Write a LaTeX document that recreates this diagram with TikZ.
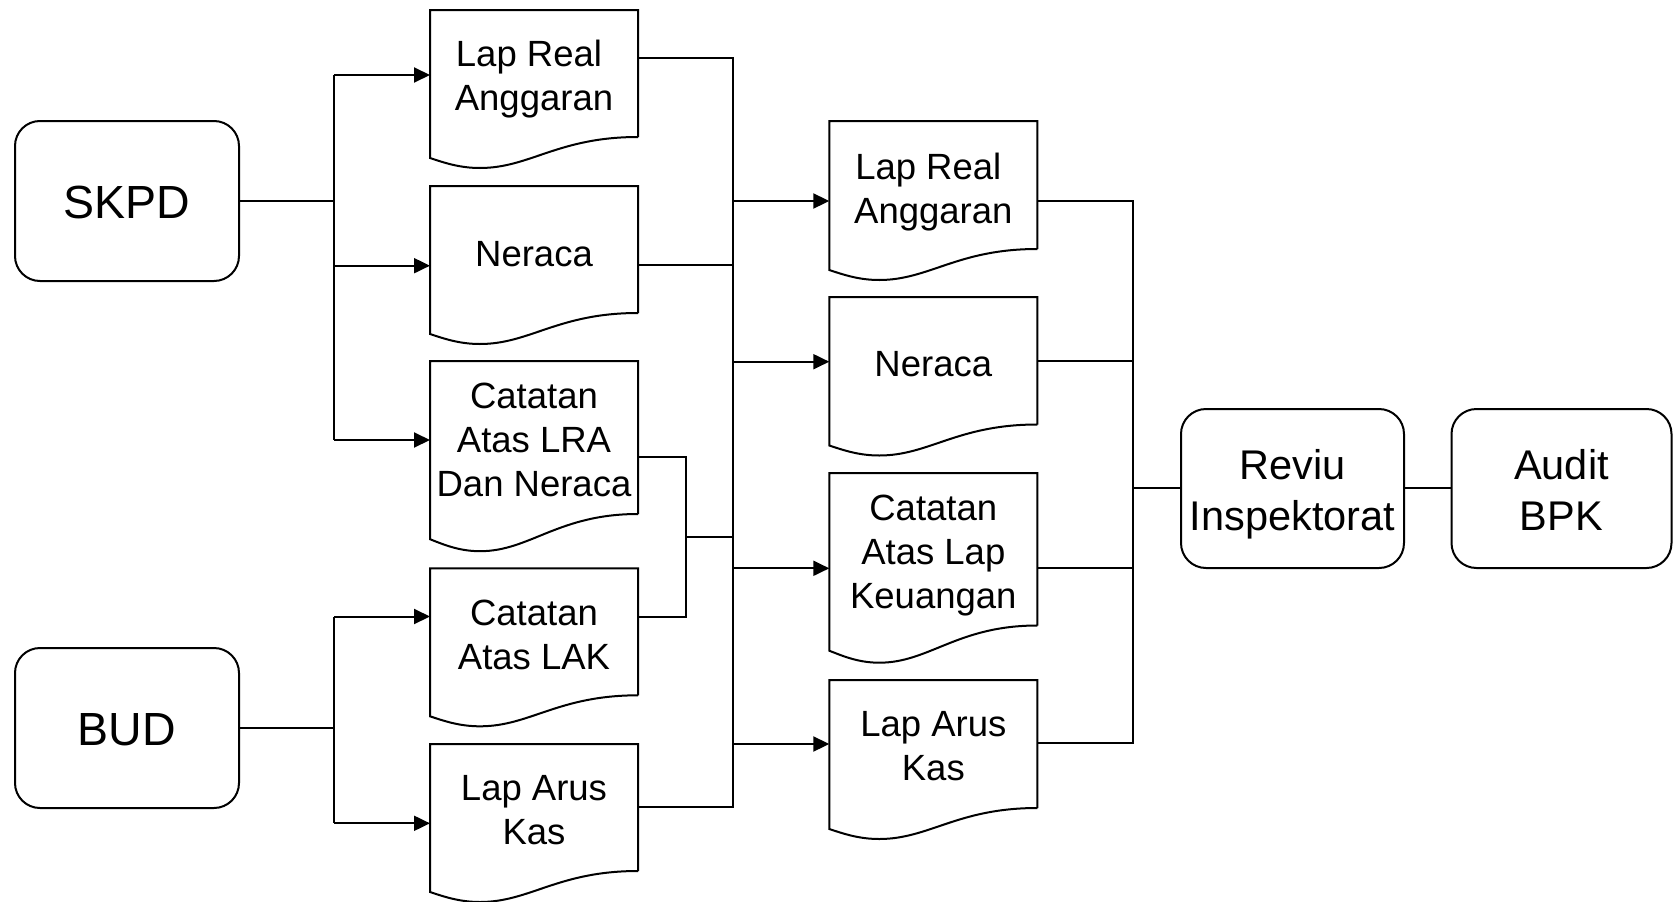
\documentclass[tikz,border=0pt]{standalone}
\usepackage{fontspec}
\setmainfont{Liberation Sans}
\usetikzlibrary{arrows.meta,calc}
\newcommand\txtlines[1]{\vtop{\halign{\hfil##\hfil\cr#1\crcr}}}
\newcommand\docoutline[2]{%
  \draw[shapeline] (#1.south east) -- (#1.north east) -- (#1.north west)
    -- ($(#1.south west)+(0,21*#2)$)
    .. controls +(15,5*#2) and +(-20,0) .. ($(#1.south west)+(50,31*#2)$)
    .. controls +(50,0) and +(-80,0) .. (#1.south east);}
\begin{document}
\begin{tikzpicture}[x=1pt,y=-1pt,
  shapeline/.style={line width=2pt,line join=miter},
  conn/.style={line width=2pt},
  arr/.style={line width=2pt,-{Triangle[length=16pt,width=15pt]}},
  docbox/.style={rectangle,draw=none,minimum width=208pt,inner sep=0pt,outer sep=0pt,anchor=north west},
  roundbox/.style={rectangle,draw,line width=2pt,rounded corners=25pt,inner sep=0pt,outer sep=0pt,anchor=north west},
  doctext/.style={anchor=base,inner sep=0pt,font=\fontsize{36.5}{44}\selectfont},
  bigtext/.style={anchor=base,inner sep=0pt,font=\fontsize{41.5}{50.7}\selectfont},
  hugetext/.style={anchor=base,inner sep=0pt,font=\fontsize{46.5}{52}\selectfont}]
\useasboundingbox (0,0) rectangle (1673,902);

% rounded boxes
\node[roundbox,minimum width=224pt,minimum height=160pt] (skpd) at (15,121) {};
\node[roundbox,minimum width=224pt,minimum height=160pt] (bud) at (15,648) {};
\node[roundbox,minimum width=223pt,minimum height=159pt] (reviu) at (1181,409) {};
\node[roundbox,minimum width=220pt,minimum height=159pt] (audit) at (1451.5,409) {};
\node[hugetext] (tskpd) at (127,218.3) {SKPD};
\node[hugetext] (tbud) at (127,745) {BUD};
\node[bigtext] (treviu) at (1292.5,479.3) {\txtlines{Reviu\cr Inspektorat}};
\node[bigtext] (taudit) at (1561.5,479.3) {\txtlines{Audit\cr BPK}};

% documents column 1
\node[docbox,minimum height=127pt] (d1) at (430,10) {};
\node[docbox,minimum height=127pt] (d2) at (430,186) {};
\node[docbox,minimum height=153pt] (d3) at (430,361) {};
\node[docbox,minimum height=127pt] (d4) at (430,568.3) {};
\node[docbox,minimum height=127pt] (d5) at (430,744) {};
\docoutline{d1}{1}
\docoutline{d2}{1}
\docoutline{d3}{1.2}
\docoutline{d4}{1}
\docoutline{d5}{1}
\node[doctext] (td1) at (534,66.7) {\txtlines{Lap Real\kern10pt\cr Anggaran}};
\node[doctext] (td2) at (534,266.7) {Neraca};
\node[doctext] (td3) at (534,408.3) {\txtlines{Catatan\cr Atas LRA\cr Dan Neraca}};
\node[doctext] (td4) at (534,625.5) {\txtlines{Catatan\cr Atas LAK}};
\node[doctext] (td5) at (534,800) {\txtlines{Lap Arus\cr Kas}};

% documents column 2
\node[docbox,minimum height=128pt] (e1) at (829.3,121) {};
\node[docbox,minimum height=127.5pt] (e2) at (829.3,297) {};
\node[docbox,minimum height=152.5pt] (e3) at (829.3,473) {};
\node[docbox,minimum height=128pt] (e4) at (829.3,680) {};
\docoutline{e1}{1}
\docoutline{e2}{1}
\docoutline{e3}{1.2}
\docoutline{e4}{1}
\node[doctext] (te1) at (933.3,179.3) {\txtlines{Lap Real\kern10pt\cr Anggaran}};
\node[doctext] (te2) at (933.3,376.7) {Neraca};
\node[doctext] (te3) at (933.3,520) {\txtlines{Catatan\cr Atas Lap\cr Keuangan}};
\node[doctext] (te4) at (933.3,736.7) {\txtlines{Lap Arus\cr Kas}};

% bus coordinates
\coordinate (s1) at (334.3,75);
\coordinate (s2) at (334.3,265.7);
\coordinate (s3) at (334.3,440);
\coordinate (sk) at (334.3,200.7);
\coordinate (u1) at (334.3,616.5);
\coordinate (u2) at (334.3,823.3);
\coordinate (uk) at (334.3,727.7);
\coordinate (j34) at (685.7,536.7);
\coordinate (m1) at (733.3,57.5);
\coordinate (m2) at (733.3,265);
\coordinate (m5) at (733.3,807.3);
\coordinate (mj) at (733.3,536.7);
\coordinate (n1) at (733.3,201);
\coordinate (n2) at (733.3,361.7);
\coordinate (n3) at (733.3,568.3);
\coordinate (n4) at (733.3,744);
\coordinate (r1) at (1132.7,200.7);
\coordinate (r2) at (1132.7,361);
\coordinate (r3) at (1132.7,567.7);
\coordinate (r4) at (1132.7,743.3);
\coordinate (rj) at (1132.7,488.3);
\coordinate (o3) at (685.7,456.7);

% SKPD
\draw[conn] (skpd.east |- sk) -- (sk);
\draw[conn] (s1) -- (s3);
\draw[arr] (s1) -- (s1 -| d1.west);
\draw[arr] (s2) -- (s2 -| d2.west);
\draw[arr] (s3) -- (s3 -| d3.west);
% BUD
\draw[conn] (bud.east |- uk) -- (uk);
\draw[conn] (u1) -- (u2);
\draw[arr] (u1) -- (u1 -| d4.west);
\draw[arr] (u2) -- (u2 -| d5.west);
% column 1 outputs
\draw[conn] (d1.east |- m1) -- (m1) -- (m5) -- (d5.east |- m5);
\draw[conn] (d2.east |- m2) -- (m2);
\draw[conn] (d3.east |- o3) -- (o3) -- (j34) |- (d4.east |- u1);
\draw[conn] (j34) -- (mj);
% to column 2
\draw[arr] (n1) -- (n1 -| e1.west);
\draw[arr] (n2) -- (n2 -| e2.west);
\draw[arr] (n3) -- (n3 -| e3.west);
\draw[arr] (n4) -- (n4 -| e4.west);
% column 2 outputs
\draw[conn] (e1.east |- r1) -- (r1) -- (r4) -- (e4.east |- r4);
\draw[conn] (e2.east |- r2) -- (r2);
\draw[conn] (e3.east |- r3) -- (r3);
\draw[conn] (rj) -- (reviu.west |- rj);
\draw[conn] (reviu.east |- rj) -- (audit.west |- rj);
\end{tikzpicture}
\end{document}
